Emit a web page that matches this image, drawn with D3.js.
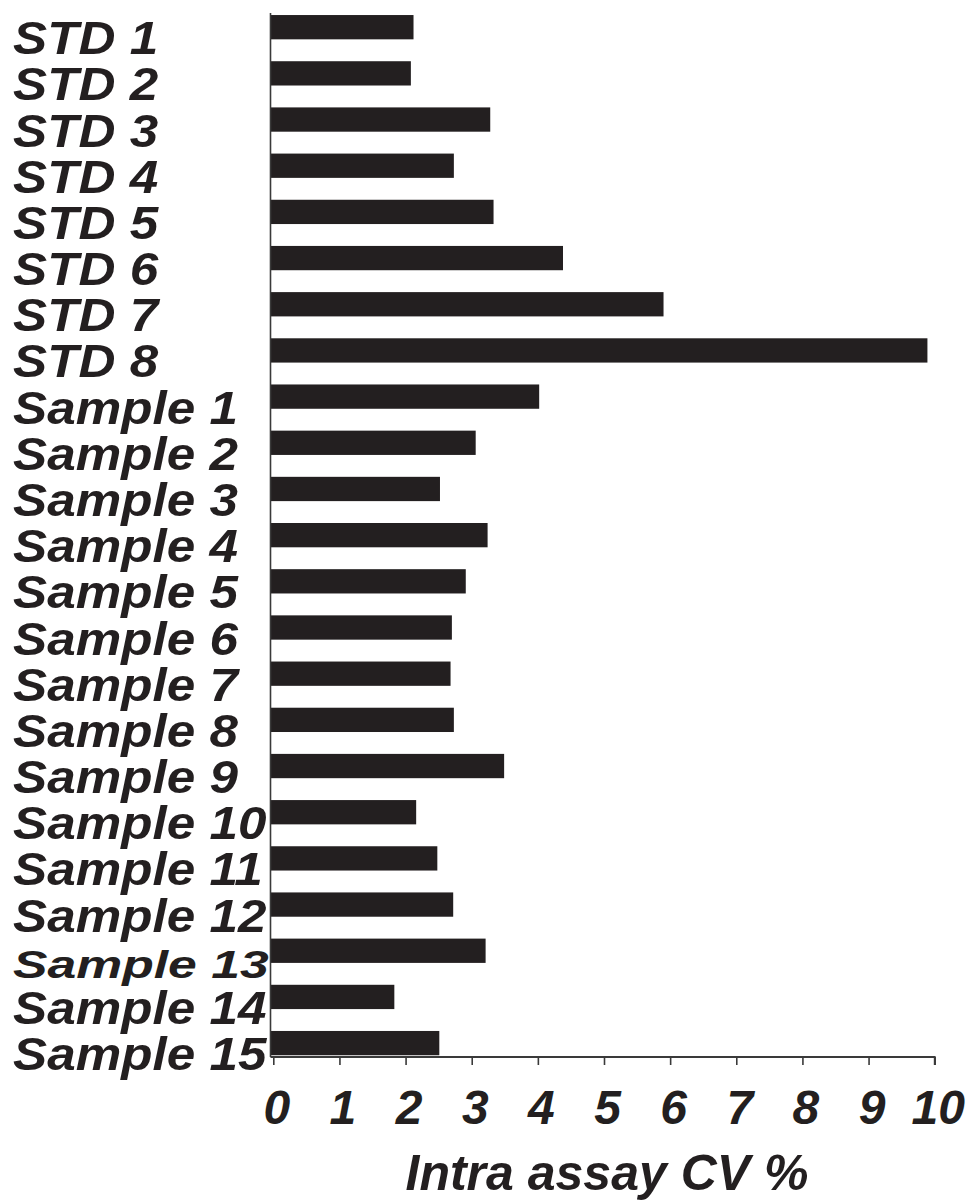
<!DOCTYPE html>
<html>
<head>
<meta charset="utf-8">
<script src="https://cdn.jsdelivr.net/npm/d3@7"></script>
<style>
  html, body { margin: 0; padding: 0; background: #fff; }
  svg { display: block; }
  text { font-family: "Liberation Sans", Arial, sans-serif; font-weight: bold; font-style: italic; fill: #231f20; }
</style>
</head>
<body>
<svg id="chart" width="972" height="1201"></svg>
<script>
const categories = ["STD 1","STD 2","STD 3","STD 4","STD 5","STD 6","STD 7","STD 8",
  "Sample 1","Sample 2","Sample 3","Sample 4","Sample 5","Sample 6","Sample 7","Sample 8",
  "Sample 9","Sample 10","Sample 11","Sample 12","Sample 13","Sample 14","Sample 15"];
const cvValues = [2.12, 2.08, 3.28, 2.73, 3.33, 4.38, 5.90, 9.89,
  4.02, 3.06, 2.52, 3.24, 2.91, 2.70, 2.68, 2.73,
  3.49, 2.16, 2.48, 2.72, 3.21, 1.83, 2.51];
const xTicks = [0,1,2,3,4,5,6,7,8,9,10];
const xTitle = "Intra assay CV %";

const data = categories.map((c, i) => ({ name: c, value: cvValues[i] }));
const svg = d3.select("#chart");

const axisX = 270.5, axisY = 1057;
const x = d3.scaleLinear().domain([0, 10]).range([273.3, 934.7]);
const y = d3.scaleBand().domain(categories).range([4.1, 1066.2]).paddingInner(0.474).paddingOuter(0.237);

// bars
svg.append("g").selectAll("rect").data(data).join("rect")
  .attr("x", axisX)
  .attr("y", d => y(d.name))
  .attr("width", d => x(d.value) - axisX)
  .attr("height", y.bandwidth())
  .attr("fill", "#231f20");

// y axis line
svg.append("line")
  .attr("x1", axisX).attr("x2", axisX)
  .attr("y1", 13).attr("y2", axisY)
  .attr("stroke", "#3a3a3a").attr("stroke-width", 1.6);

// x axis
const xAxis = d3.axisBottom(x).tickValues(xTicks).tickSize(8).tickPadding(0).tickFormat(d3.format("d"));
const gx = svg.append("g").attr("transform", `translate(0,${axisY})`).call(xAxis);
gx.select(".domain").attr("d", `M${axisX},0H${x(10)}V8`).attr("stroke", "#3a3a3a").attr("stroke-width", 1.8);
gx.selectAll(".tick line").attr("stroke", "#3a3a3a").attr("stroke-width", 1.6);
gx.selectAll(".tick text")
  .attr("y", 67).attr("dy", 0)
  .attr("dx", 3)
  .style("font-size", "48px")
  .style("font-family", "'Liberation Sans', Arial, sans-serif")
  .style("font-weight", "bold").style("font-style", "italic")
  .attr("fill", "#231f20");

// y labels
svg.append("g").selectAll("text").data(data).join("text")
  .attr("transform", d => `translate(13,${y(d.name) + y.bandwidth() / 2 + 27}) scale(${d.name === "Sample 13" ? 1.1 : 1.09},${d.name === "Sample 13" ? 0.82 : 1})`)
  .style("font-size", "47px")
  .text(d => d.name);

// x title
svg.append("text")
  .attr("x", (x(0) + x(10)) / 2 + 3)
  .attr("y", 1190)
  .attr("text-anchor", "middle")
  .style("font-size", "50px")
  .text(xTitle);
</script>
</body>
</html>
